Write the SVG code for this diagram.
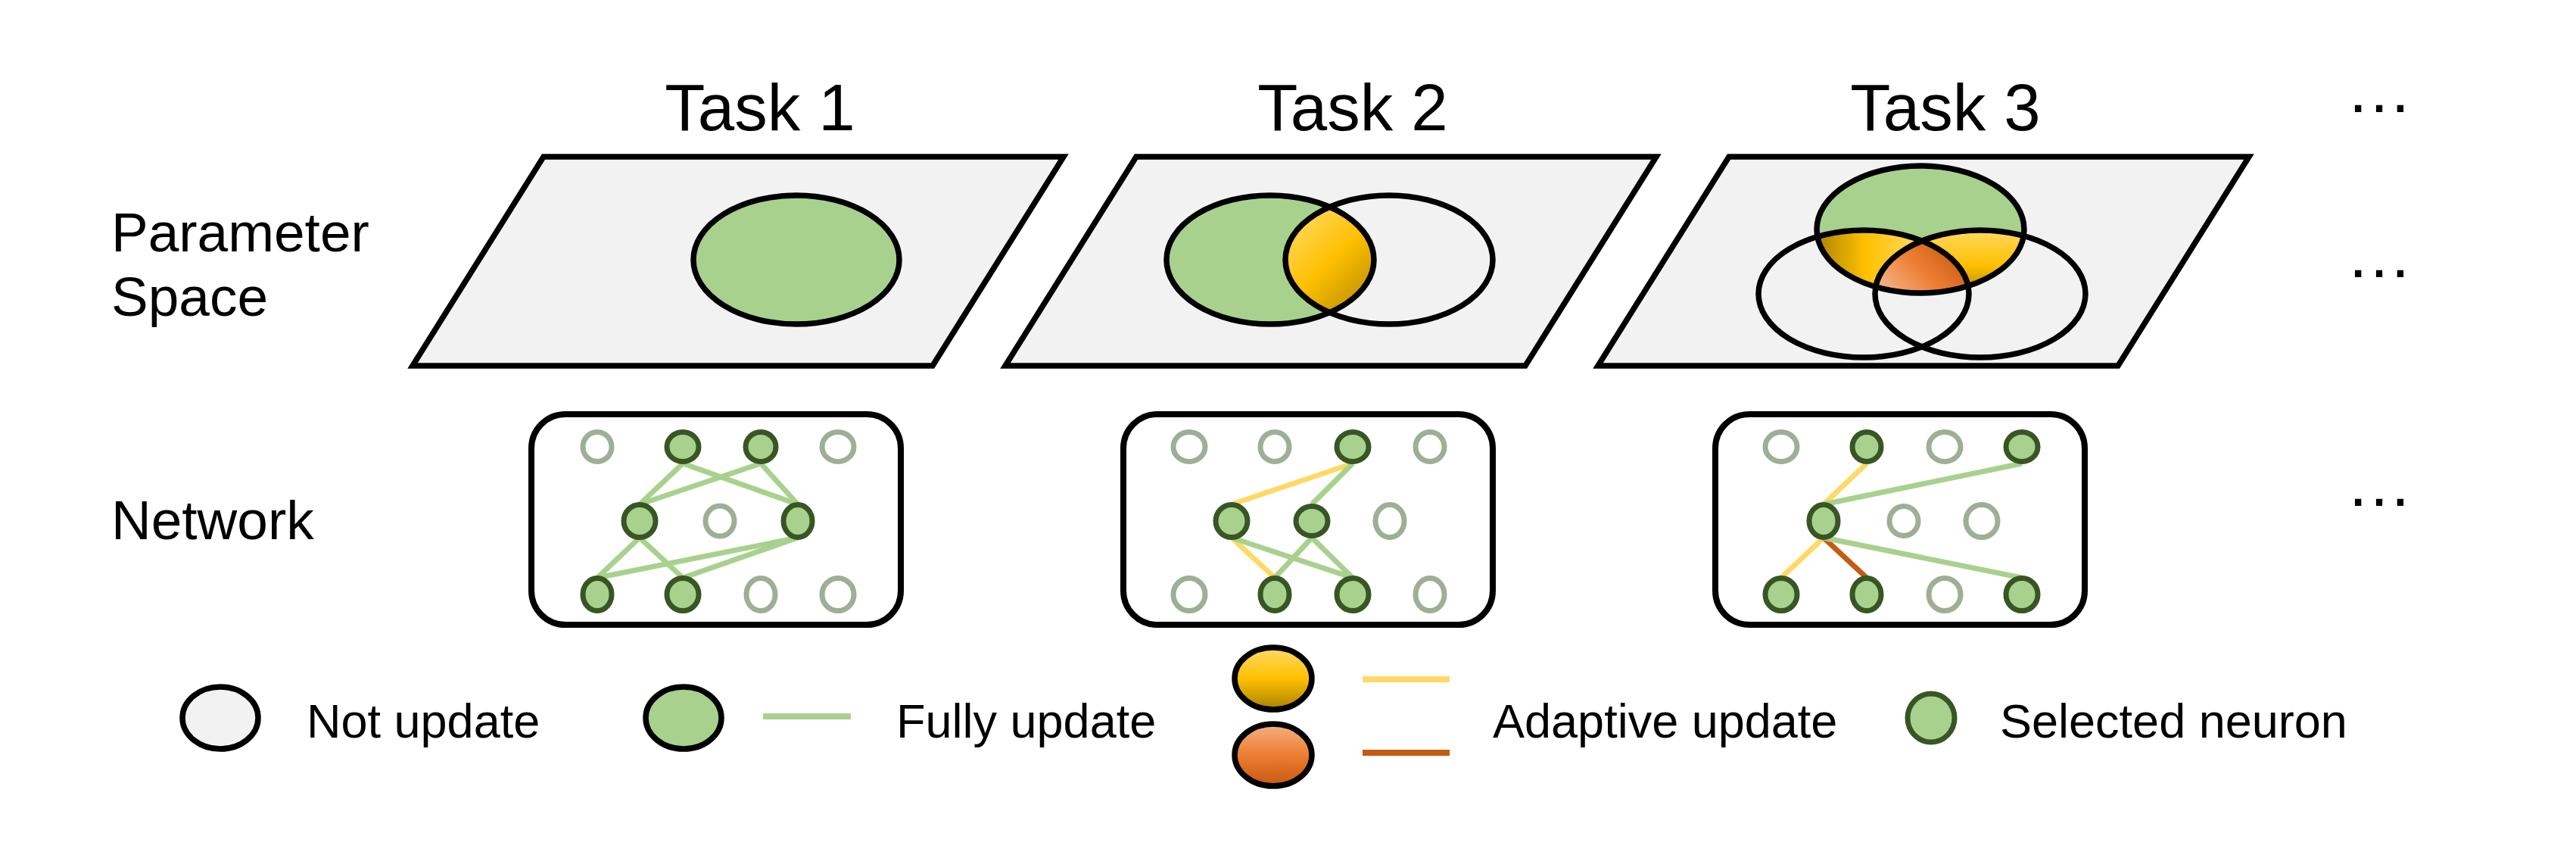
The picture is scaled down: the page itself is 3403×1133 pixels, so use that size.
<svg xmlns="http://www.w3.org/2000/svg" width="3403" height="1133" viewBox="0 0 3403 1133">
<defs>
<style>
.pg{fill:#F2F2F2;stroke:#000;stroke-width:7.5;stroke-linejoin:miter}
.ol{fill:none;stroke:#000;stroke-width:7.5}
.gr{fill:#A9D18E}
.box{fill:#fff;stroke:#000;stroke-width:8}
.sel{fill:#A9D18E;stroke:#375623;stroke-width:7}
.off{fill:#fff;stroke:#9DAF94;stroke-width:7}
.e{stroke-width:7;fill:none}
.eg{stroke:#A9D18E}
.ey{stroke:#FFD966}
.eo{stroke:#C55A11}
text{font-family:"Liberation Sans",Arial,sans-serif;fill:#000}
.t{font-size:87px;text-anchor:middle}
.l{font-size:73px}
.g{font-size:63px}
.d{font-size:88px;text-anchor:middle}
</style>
<linearGradient id="gY2" gradientUnits="userSpaceOnUse" x1="1700" y1="285" x2="1815" y2="405">
<stop offset="0" stop-color="#FFDB6A"/><stop offset="0.5" stop-color="#FFC000"/><stop offset="1" stop-color="#B38900"/>
</linearGradient>
<linearGradient id="gYL" gradientUnits="userSpaceOnUse" x1="2398" y1="0" x2="2530" y2="0">
<stop offset="0" stop-color="#A98200"/><stop offset="0.5" stop-color="#FFC000"/><stop offset="1" stop-color="#FFD85A"/>
</linearGradient>
<linearGradient id="gYR" gradientUnits="userSpaceOnUse" x1="0" y1="300" x2="0" y2="392">
<stop offset="0" stop-color="#FFDA66"/><stop offset="0.55" stop-color="#FFC000"/><stop offset="1" stop-color="#A98200"/>
</linearGradient>
<linearGradient id="gO3" gradientUnits="userSpaceOnUse" x1="2500" y1="392" x2="2578" y2="318">
<stop offset="0" stop-color="#F4B183"/><stop offset="0.5" stop-color="#ED7D31"/><stop offset="1" stop-color="#C55A11"/>
</linearGradient>
<linearGradient id="gYV" x1="0" y1="0" x2="0" y2="1">
<stop offset="0" stop-color="#FFDA66"/><stop offset="0.5" stop-color="#FFC000"/><stop offset="1" stop-color="#A98200"/>
</linearGradient>
<linearGradient id="gOV" x1="0" y1="0" x2="0" y2="1">
<stop offset="0" stop-color="#F4B183"/><stop offset="0.5" stop-color="#ED7D31"/><stop offset="1" stop-color="#C55A11"/>
</linearGradient>
<clipPath id="c2w"><ellipse cx="1835" cy="343" rx="137" ry="85"/></clipPath>
<clipPath id="c3t"><ellipse cx="2537" cy="303" rx="137" ry="84"/></clipPath>
<clipPath id="c3l"><ellipse cx="2462" cy="388" rx="139" ry="84"/></clipPath>
</defs>
<rect width="3403" height="1133" fill="#fff"/>

<g id="titles">
<text class="t" x="1004" y="172">Task 1</text>
<text class="t" x="1787" y="172">Task 2</text>
<text class="t" x="2570" y="172">Task 3</text>
<text class="d" x="3143" y="148">…</text>
<text class="d" x="3143" y="366">…</text>
<text class="d" x="3143" y="668">…</text>
</g>
<g id="row-labels">
<text class="l" x="147" y="332">Parameter</text>
<text class="l" x="147" y="417">Space</text>
<text class="l" x="147" y="712">Network</text>
</g>

<g id="param-task1">
<polygon class="pg" points="718,207 1405,207 1232,483 545,483"/>
<ellipse class="gr" cx="1052" cy="343" rx="136" ry="85"/>
<ellipse class="ol" cx="1052" cy="343" rx="136" ry="85"/>
</g>

<g id="param-task2">
<polygon class="pg" points="1501,207 2188,207 2015,483 1328,483"/>
<ellipse class="gr" cx="1678" cy="343" rx="137" ry="85"/>
<ellipse cx="1678" cy="343" rx="137" ry="85" fill="url(#gY2)" clip-path="url(#c2w)"/>
<ellipse class="ol" cx="1678" cy="343" rx="137" ry="85"/>
<ellipse class="ol" cx="1835" cy="343" rx="137" ry="85"/>
</g>

<g id="param-task3">
<polygon class="pg" points="2284,207 2971,207 2798,483 2111,483"/>
<ellipse class="gr" cx="2537" cy="303" rx="137" ry="84"/>
<ellipse cx="2462" cy="388" rx="139" ry="84" fill="url(#gYL)" clip-path="url(#c3t)"/>
<ellipse cx="2616" cy="388" rx="139" ry="84" fill="url(#gYR)" clip-path="url(#c3t)"/>
<g clip-path="url(#c3t)"><g clip-path="url(#c3l)">
<ellipse cx="2616" cy="388" rx="139" ry="84" fill="url(#gO3)"/>
</g></g>
<ellipse class="ol" cx="2462" cy="388" rx="139" ry="84"/>
<ellipse class="ol" cx="2616" cy="388" rx="139" ry="84"/>
<ellipse class="ol" cx="2537" cy="303" rx="137" ry="84"/>
</g>

<g id="network-frames">
<rect class="box" x="702" y="547" width="488" height="278" rx="45"/>
<rect class="box" x="1484" y="547" width="488" height="278" rx="45"/>
<rect class="box" x="2266" y="547" width="488" height="278" rx="45"/>
</g>

<g id="connectors">
<line class="e eg" x1="902" y1="612" x2="845" y2="666"/>
<line class="e eg" x1="902" y1="612" x2="1054" y2="666"/>
<line class="e eg" x1="1005" y1="612" x2="845" y2="666"/>
<line class="e eg" x1="1005" y1="612" x2="1054" y2="666"/>
<line class="e eg" x1="845" y1="710" x2="789" y2="763"/>
<line class="e eg" x1="845" y1="710" x2="902" y2="763"/>
<line class="e eg" x1="1054" y1="710" x2="789" y2="763"/>
<line class="e eg" x1="1054" y1="710" x2="902" y2="763"/>

<line class="e ey" x1="1787" y1="612" x2="1627" y2="666"/>
<line class="e eg" x1="1787" y1="612" x2="1733" y2="666"/>
<line class="e ey" x1="1627" y1="710" x2="1684" y2="763"/>
<line class="e eg" x1="1627" y1="710" x2="1787" y2="763"/>
<line class="e eg" x1="1733" y1="710" x2="1684" y2="763"/>
<line class="e eg" x1="1733" y1="710" x2="1787" y2="763"/>

<line class="e ey" x1="2466" y1="612" x2="2409" y2="666"/>
<line class="e eg" x1="2671" y1="612" x2="2409" y2="666"/>
<line class="e ey" x1="2409" y1="710" x2="2353" y2="763"/>
<line class="e eo" x1="2409" y1="710" x2="2466" y2="763"/>
<line class="e eg" x1="2409" y1="710" x2="2671" y2="763"/>
</g>

<g id="network-task1">
<ellipse id="n1-11" class="off" cx="789" cy="590" rx="19" ry="19.5"/>
<ellipse id="n1-12" class="sel" cx="902" cy="590" rx="21" ry="19.5"/>
<ellipse id="n1-13" class="sel" cx="1005" cy="590" rx="20" ry="19.5"/>
<ellipse id="n1-14" class="off" cx="1107" cy="590" rx="21" ry="19.5"/>
<ellipse id="n1-21" class="sel" cx="845" cy="688" rx="21" ry="21.5"/>
<ellipse id="n1-22" class="off" cx="951" cy="688" rx="19" ry="20"/>
<ellipse id="n1-23" class="sel" cx="1054" cy="688" rx="19" ry="21.5"/>
<ellipse id="n1-31" class="sel" cx="789" cy="785" rx="19" ry="21.5"/>
<ellipse id="n1-32" class="sel" cx="902" cy="785" rx="21" ry="21.5"/>
<ellipse id="n1-33" class="off" cx="1005" cy="785" rx="19" ry="21.5"/>
<ellipse id="n1-34" class="off" cx="1107" cy="785" rx="21" ry="21.5"/>
</g>
<g id="network-task2">
<ellipse id="n2-11" class="off" cx="1571" cy="590" rx="21" ry="19.5"/>
<ellipse id="n2-12" class="off" cx="1684" cy="590" rx="19" ry="19.5"/>
<ellipse id="n2-13" class="sel" cx="1787" cy="590" rx="21" ry="19.5"/>
<ellipse id="n2-14" class="off" cx="1889" cy="590" rx="19" ry="19.5"/>
<ellipse id="n2-21" class="sel" cx="1627" cy="688" rx="21" ry="21.5"/>
<ellipse id="n2-22" class="sel" cx="1733" cy="688" rx="21" ry="19.5"/>
<ellipse id="n2-23" class="off" cx="1836" cy="688" rx="19" ry="21.5"/>
<ellipse id="n2-31" class="off" cx="1571" cy="785" rx="21" ry="21.5"/>
<ellipse id="n2-32" class="sel" cx="1684" cy="785" rx="19" ry="21.5"/>
<ellipse id="n2-33" class="sel" cx="1787" cy="785" rx="21" ry="21.5"/>
<ellipse id="n2-34" class="off" cx="1889" cy="785" rx="19" ry="21.5"/>
</g>
<g id="network-task3">
<ellipse id="n3-11" class="off" cx="2353" cy="590" rx="21" ry="19.5"/>
<ellipse id="n3-12" class="sel" cx="2466" cy="590" rx="19" ry="19.5"/>
<ellipse id="n3-13" class="off" cx="2569" cy="590" rx="21" ry="19.5"/>
<ellipse id="n3-14" class="sel" cx="2671" cy="590" rx="21" ry="19.5"/>
<ellipse id="n3-21" class="sel" cx="2409" cy="688" rx="19" ry="21.5"/>
<ellipse id="n3-22" class="off" cx="2515" cy="688" rx="19" ry="19.5"/>
<ellipse id="n3-23" class="off" cx="2618" cy="688" rx="21" ry="21.5"/>
<ellipse id="n3-31" class="sel" cx="2353" cy="785" rx="21" ry="21.5"/>
<ellipse id="n3-32" class="sel" cx="2466" cy="785" rx="19" ry="21.5"/>
<ellipse id="n3-33" class="off" cx="2569" cy="785" rx="21" ry="21.5"/>
<ellipse id="n3-34" class="sel" cx="2671" cy="785" rx="21" ry="21.5"/>
</g>

<g id="legend-not-update">
<ellipse cx="291" cy="948" rx="50" ry="41" fill="#F2F2F2" stroke="#000" stroke-width="7.5"/>
<text class="g" x="405" y="974">Not update</text>
</g>
<g id="legend-fully-update">
<ellipse cx="903" cy="948" rx="50" ry="41" fill="#A9D18E" stroke="#000" stroke-width="7.5"/>
<line x1="1008" y1="946" x2="1124" y2="946" stroke="#A9D18E" stroke-width="8"/>
<text class="g" x="1184" y="974">Fully update</text>
</g>
<g id="legend-adaptive-update">
<ellipse cx="1682" cy="896" rx="51" ry="41" fill="url(#gYV)" stroke="#000" stroke-width="7.5"/>
<ellipse cx="1682" cy="997" rx="51" ry="41" fill="url(#gOV)" stroke="#000" stroke-width="7.5"/>
<line x1="1800" y1="897" x2="1915" y2="897" stroke="#FFD966" stroke-width="8"/>
<line x1="1800" y1="994" x2="1915" y2="994" stroke="#C55A11" stroke-width="8"/>
<text class="g" x="1972" y="974">Adaptive update</text>
</g>
<g id="legend-selected-neuron">
<ellipse class="sel" cx="2551" cy="948" rx="31" ry="32" stroke-width="6"/>
<text class="g" x="2642" y="974">Selected neuron</text>
</g>
</svg>
